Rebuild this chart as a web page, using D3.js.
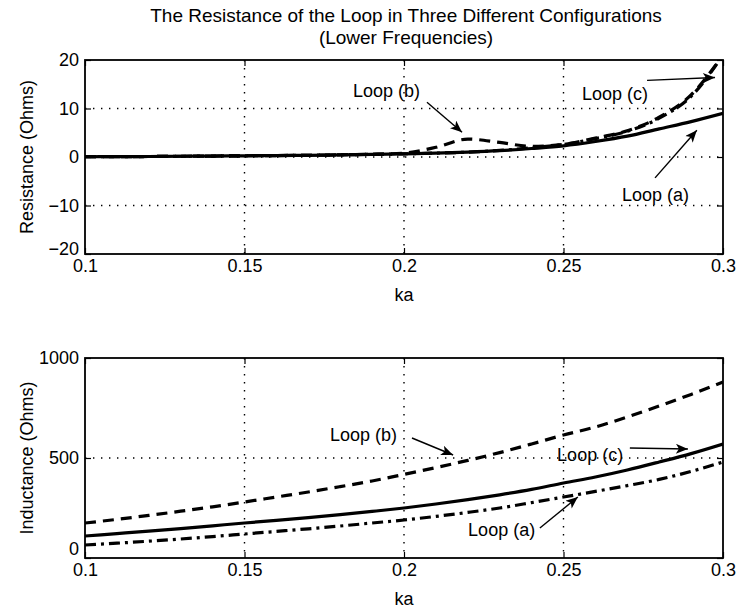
<!DOCTYPE html>
<html><head><meta charset="utf-8">
<script src="https://cdn.jsdelivr.net/npm/d3@7"></script>
<style>body{margin:0;background:#fff}svg{display:block}text{font-family:"Liberation Sans",Arial,Helvetica,sans-serif;fill:#000}</style>
</head><body>
<script>
// ---- data ----
const ka = [0.10,0.11,0.12,0.13,0.14,0.15,0.16,0.17,0.18,0.19,0.20,0.21,0.22,0.23,0.24,0.25,0.26,0.27,0.28,0.29,0.30];
const resA = [0.05,0.08,0.10,0.15,0.20,0.25,0.30,0.35,0.45,0.55,0.65,0.80,1.00,1.30,1.75,2.30,3.20,4.30,5.80,7.30,9.00];
const resB = [0.05,0.08,0.10,0.15,0.20,0.25,0.30,0.35,0.45,0.55,0.80,2.00,3.70,3.00,2.20,2.60,3.90,5.40,8.20,12.8,21.0];
const resC = [0.05,0.08,0.10,0.15,0.20,0.25,0.30,0.35,0.45,0.55,0.65,0.80,1.00,1.35,1.90,2.60,3.80,5.30,8.00,12.5,21.0];
const indA = [65,74,84,95,107,120,133,146,160,175,190,208,228,250,277,305,333,362,393,433,480];
const indB = [175,193,213,234,256,280,305,330,357,385,418,452,488,527,570,615,655,705,760,818,880];
const indC = [110,122,134,147,161,175,188,202,217,233,250,270,292,316,343,375,405,440,480,522,570];
const xTicks = [0.1,0.15,0.2,0.25,0.3];
const xTickLabels = ["0.1","0.15","0.2","0.25","0.3"];
const resTicks = [-20,-10,0,10,20];
const resTickLabels = ["\u221220","\u221210","0","10","20"];
const indTicks = [0,500,1000];
const indTickLabels = ["0","500","1000"];
const title1 = "The Resistance of the Loop in Three Different Configurations";
const title2 = "(Lower Frequencies)";
// annotations: [label, textKa, textVal, fromKa, fromVal, toKa, toVal]
const resNotes = [
  ["Loop (b)",0.1840,13.7,0.2072,11.3,0.2182,5.1],
  ["Loop (c)",0.2558,13.1,0.2762,15.8,0.2975,16.4],
  ["Loop (a)",0.2683,-7.8,0.2787,-4.3,0.2918,5.5]
];
const indNotes = [
  ["Loop (b)",0.1768,615,0.2025,600,0.2154,515],
  ["Loop (c)",0.2480,515,0.2708,550,0.2890,545],
  ["Loop (a)",0.2201,140,0.2426,150,0.2545,305]
];

const W=739,H=611;
const svg=d3.select("body").append("svg").attr("width",W).attr("height",H);
svg.append("defs").append("marker").attr("id","arr").attr("viewBox","0 0 12 10")
  .attr("refX",12).attr("refY",5).attr("markerWidth",13).attr("markerHeight",10)
  .attr("markerUnits","userSpaceOnUse").attr("orient","auto")
  .append("path").attr("d","M0,0 L12,5 L0,10 L3,5 Z").attr("fill","#000");

svg.append("text").attr("x",406).attr("y",22).attr("text-anchor","middle").attr("font-size",19).text(title1);
svg.append("text").attr("x",406).attr("y",44).attr("text-anchor","middle").attr("font-size",19).text(title2);

const styles={solid:null,dash:"11,7",dashdot:"11,5,3,5"};

function panel(id,top,bottom,domain,yTicks,yLabels,grid,series,notes,ylabel,nudgeZero){
  const x=d3.scaleLinear().domain([0.1,0.3]).range([85,723]);
  const y=d3.scaleLinear().domain(domain).range([bottom,top]);
  const g=svg.append("g");
  g.append("clipPath").attr("id","c"+id).append("rect").attr("x",85).attr("y",top).attr("width",638).attr("height",bottom-top);
  // grid
  xTicks.slice(1,-1).forEach(t=>g.append("line").attr("x1",x(t)).attr("x2",x(t)).attr("y1",top).attr("y2",bottom)
    .attr("stroke","#000").attr("stroke-width",1.4).attr("stroke-dasharray","1.4,6.6"));
  grid.forEach(t=>g.append("line").attr("x1",85).attr("x2",723).attr("y1",y(t)).attr("y2",y(t))
    .attr("stroke","#000").attr("stroke-width",1.4).attr("stroke-dasharray","1.4,6.6"));
  // axes
  const axB=d3.axisBottom(x).tickValues(xTicks).tickFormat((d,i)=>xTickLabels[i]).tickSizeInner(-6).tickSizeOuter(0).tickPadding(5);
  const axT=d3.axisTop(x).tickValues(xTicks).tickFormat("").tickSizeInner(-6).tickSizeOuter(0);
  const axL=d3.axisLeft(y).tickValues(yTicks).tickFormat((d,i)=>yLabels[i]).tickSizeInner(-6).tickSizeOuter(0).tickPadding(6);
  const axR=d3.axisRight(y).tickValues(yTicks).tickFormat("").tickSizeInner(-6).tickSizeOuter(0);
  [[axB,`translate(0,${bottom})`],[axT,`translate(0,${top})`],[axL,"translate(85,0)"],[axR,"translate(723,0)"]].forEach(([a,t],k)=>{
    const s=g.append("g").attr("transform",t).call(a);
    s.select(".domain").remove();
    s.selectAll("line").attr("stroke","#000").attr("stroke-width",1.2);
    s.selectAll("text").attr("font-size",18).attr("font-family","'Liberation Sans',Arial,sans-serif").attr("fill","#000");
    if(k===2) s.selectAll("text").filter((d,i)=>i===0).attr("dy",nudgeZero);
  });
  g.append("rect").attr("x",85).attr("y",top).attr("width",638).attr("height",bottom-top).attr("fill","none").attr("stroke","#000").attr("stroke-width",1.8);
  // series
  const line=d3.line().x((d,i)=>x(ka[i])).y(d=>y(d)).curve(d3.curveMonotoneX);
  const cg=g.append("g").attr("clip-path",`url(#c${id})`);
  series.forEach(([vals,st])=>cg.append("path").attr("d",line(vals)).attr("fill","none").attr("stroke","#000")
    .attr("stroke-width",3.2).attr("stroke-dasharray",styles[st]));
  // labels
  g.append("text").attr("x",x(0.2)).attr("y",bottom+47).attr("text-anchor","middle").attr("font-size",18).text("ka");
  g.append("text").attr("transform",`translate(33,${(top+bottom)/2}) rotate(-90)`).attr("text-anchor","middle").attr("font-size",18).text(ylabel);
  notes.forEach(n=>{
    g.append("text").attr("x",x(n[1])).attr("y",y(n[2])).attr("dy","0.35em").attr("font-size",18).text(n[0]);
    g.append("line").attr("x1",x(n[3])).attr("y1",y(n[4])).attr("x2",x(n[5])).attr("y2",y(n[6]))
      .attr("stroke","#000").attr("stroke-width",1.4).attr("marker-end","url(#arr)");
  });
}
panel("r",60,254,[-20,20],resTicks,resTickLabels,[-10,0,10],[[resB,"dash"],[resC,"dashdot"],[resA,"solid"]],resNotes,"Resistance (Ohms)","0.05em");
panel("i",358,558,[0,1000],indTicks,indTickLabels,[500],[[indB,"dash"],[indA,"dashdot"],[indC,"solid"]],indNotes,"Inductance (Ohms)","-0.2em");
</script>
</body></html>
